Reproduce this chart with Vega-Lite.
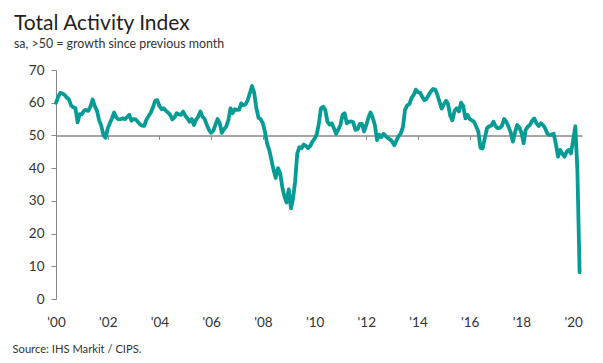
{
 "$schema": "https://vega.github.io/schema/vega-lite/v6.json",
 "width": 526, "height": 229,
 "autosize": "none",
 "padding": {"left": 56, "top": 70, "right": 21, "bottom": 64},
 "background": "white",
 "config": {"view": {"stroke": null}, "font": "Lato"},
 "title": {"text": "Total Activity Index", "subtitle": "sa, >50 = growth since previous month", "anchor": "start", "frame": "group", "dx": -42, "fontSize": 21, "fontWeight": "normal", "color": "#222", "subtitleFontSize": 12.4, "subtitleColor": "#333", "subtitlePadding": 4, "offset": 13},
 "data": {"values": [
{"d":"2000-01","v":60.0},{"d":"2000-02","v":61.8},{"d":"2000-03","v":63.0},{"d":"2000-04","v":62.8},{"d":"2000-05","v":62.4},{"d":"2000-06","v":61.6},{"d":"2000-07","v":61.0},{"d":"2000-08","v":59.2},{"d":"2000-09","v":58.6},{"d":"2000-10","v":58.3},{"d":"2000-11","v":54.0},{"d":"2000-12","v":56.5},
{"d":"2001-01","v":56.5},{"d":"2001-02","v":57.6},{"d":"2001-03","v":57.8},{"d":"2001-04","v":57.5},{"d":"2001-05","v":58.8},{"d":"2001-06","v":61.0},{"d":"2001-07","v":59.0},{"d":"2001-08","v":57.6},{"d":"2001-09","v":54.7},{"d":"2001-10","v":53.0},{"d":"2001-11","v":50.1},{"d":"2001-12","v":49.3},
{"d":"2002-01","v":52.2},{"d":"2002-02","v":53.8},{"d":"2002-03","v":55.2},{"d":"2002-04","v":57.0},{"d":"2002-05","v":55.5},{"d":"2002-06","v":54.9},{"d":"2002-07","v":55.0},{"d":"2002-08","v":55.2},{"d":"2002-09","v":55.0},{"d":"2002-10","v":55.6},{"d":"2002-11","v":56.3},{"d":"2002-12","v":54.5},
{"d":"2003-01","v":55.0},{"d":"2003-02","v":54.9},{"d":"2003-03","v":54.2},{"d":"2003-04","v":53.4},{"d":"2003-05","v":53.0},{"d":"2003-06","v":52.9},{"d":"2003-07","v":54.8},{"d":"2003-08","v":55.9},{"d":"2003-09","v":57.0},{"d":"2003-10","v":58.5},{"d":"2003-11","v":60.6},{"d":"2003-12","v":60.8},
{"d":"2004-01","v":59.0},{"d":"2004-02","v":58.0},{"d":"2004-03","v":58.3},{"d":"2004-04","v":57.6},{"d":"2004-05","v":57.0},{"d":"2004-06","v":56.3},{"d":"2004-07","v":54.9},{"d":"2004-08","v":55.5},{"d":"2004-09","v":56.8},{"d":"2004-10","v":56.4},{"d":"2004-11","v":56.3},{"d":"2004-12","v":57.3},
{"d":"2005-01","v":56.0},{"d":"2005-02","v":55.2},{"d":"2005-03","v":54.2},{"d":"2005-04","v":55.0},{"d":"2005-05","v":53.2},{"d":"2005-06","v":54.8},{"d":"2005-07","v":55.7},{"d":"2005-08","v":57.3},{"d":"2005-09","v":55.7},{"d":"2005-10","v":55.0},{"d":"2005-11","v":53.2},{"d":"2005-12","v":51.7},
{"d":"2006-01","v":50.8},{"d":"2006-02","v":51.5},{"d":"2006-03","v":53.2},{"d":"2006-04","v":55.0},{"d":"2006-05","v":53.8},{"d":"2006-06","v":50.8},{"d":"2006-07","v":51.9},{"d":"2006-08","v":52.7},{"d":"2006-09","v":54.7},{"d":"2006-10","v":58.3},{"d":"2006-11","v":56.8},{"d":"2006-12","v":58.0},
{"d":"2007-01","v":57.8},{"d":"2007-02","v":57.9},{"d":"2007-03","v":59.8},{"d":"2007-04","v":59.2},{"d":"2007-05","v":59.5},{"d":"2007-06","v":60.8},{"d":"2007-07","v":62.9},{"d":"2007-08","v":65.1},{"d":"2007-09","v":63.0},{"d":"2007-10","v":58.3},{"d":"2007-11","v":55.4},{"d":"2007-12","v":55.0},
{"d":"2008-01","v":53.7},{"d":"2008-02","v":51.0},{"d":"2008-03","v":47.5},{"d":"2008-04","v":45.5},{"d":"2008-05","v":42.5},{"d":"2008-06","v":39.4},{"d":"2008-07","v":37.0},{"d":"2008-08","v":40.0},{"d":"2008-09","v":38.5},{"d":"2008-10","v":34.3},{"d":"2008-11","v":31.3},{"d":"2008-12","v":29.5},
{"d":"2009-01","v":33.5},{"d":"2009-02","v":27.7},{"d":"2009-03","v":30.5},{"d":"2009-04","v":36.0},{"d":"2009-05","v":44.5},{"d":"2009-06","v":46.4},{"d":"2009-07","v":46.1},{"d":"2009-08","v":47.2},{"d":"2009-09","v":46.8},{"d":"2009-10","v":46.1},{"d":"2009-11","v":46.8},{"d":"2009-12","v":48.1},
{"d":"2010-01","v":49.0},{"d":"2010-02","v":50.4},{"d":"2010-03","v":53.5},{"d":"2010-04","v":58.3},{"d":"2010-05","v":58.8},{"d":"2010-06","v":57.8},{"d":"2010-07","v":54.2},{"d":"2010-08","v":53.3},{"d":"2010-09","v":53.7},{"d":"2010-10","v":52.2},{"d":"2010-11","v":50.5},{"d":"2010-12","v":51.8},
{"d":"2011-01","v":53.2},{"d":"2011-02","v":56.3},{"d":"2011-03","v":56.8},{"d":"2011-04","v":53.7},{"d":"2011-05","v":54.2},{"d":"2011-06","v":54.3},{"d":"2011-07","v":54.0},{"d":"2011-08","v":51.7},{"d":"2011-09","v":51.9},{"d":"2011-10","v":53.5},{"d":"2011-11","v":53.5},{"d":"2011-12","v":51.2},
{"d":"2012-01","v":53.2},{"d":"2012-02","v":55.5},{"d":"2012-03","v":57.0},{"d":"2012-04","v":55.4},{"d":"2012-05","v":53.2},{"d":"2012-06","v":48.6},{"d":"2012-07","v":50.2},{"d":"2012-08","v":49.5},{"d":"2012-09","v":50.5},{"d":"2012-10","v":49.8},{"d":"2012-11","v":49.2},{"d":"2012-12","v":48.8},
{"d":"2013-01","v":48.1},{"d":"2013-02","v":47.0},{"d":"2013-03","v":48.4},{"d":"2013-04","v":49.8},{"d":"2013-05","v":50.6},{"d":"2013-06","v":52.5},{"d":"2013-07","v":57.8},{"d":"2013-08","v":59.2},{"d":"2013-09","v":59.6},{"d":"2013-10","v":61.5},{"d":"2013-11","v":62.4},{"d":"2013-12","v":64.0},
{"d":"2014-01","v":63.2},{"d":"2014-02","v":63.0},{"d":"2014-03","v":61.8},{"d":"2014-04","v":60.8},{"d":"2014-05","v":61.2},{"d":"2014-06","v":62.4},{"d":"2014-07","v":63.4},{"d":"2014-08","v":64.2},{"d":"2014-09","v":64.0},{"d":"2014-10","v":62.4},{"d":"2014-11","v":60.2},{"d":"2014-12","v":58.2},
{"d":"2015-01","v":59.5},{"d":"2015-02","v":60.6},{"d":"2015-03","v":59.6},{"d":"2015-04","v":56.0},{"d":"2015-05","v":54.6},{"d":"2015-06","v":57.5},{"d":"2015-07","v":58.3},{"d":"2015-08","v":57.3},{"d":"2015-09","v":60.0},{"d":"2015-10","v":59.0},{"d":"2015-11","v":55.2},{"d":"2015-12","v":56.3},
{"d":"2016-01","v":55.0},{"d":"2016-02","v":54.6},{"d":"2016-03","v":54.2},{"d":"2016-04","v":52.7},{"d":"2016-05","v":51.2},{"d":"2016-06","v":46.2},{"d":"2016-07","v":46.0},{"d":"2016-08","v":49.2},{"d":"2016-09","v":52.2},{"d":"2016-10","v":52.8},{"d":"2016-11","v":53.0},{"d":"2016-12","v":54.2},
{"d":"2017-01","v":52.8},{"d":"2017-02","v":52.2},{"d":"2017-03","v":52.3},{"d":"2017-04","v":53.0},{"d":"2017-05","v":55.0},{"d":"2017-06","v":54.2},{"d":"2017-07","v":52.7},{"d":"2017-08","v":51.0},{"d":"2017-09","v":48.1},{"d":"2017-10","v":50.8},{"d":"2017-11","v":53.2},{"d":"2017-12","v":52.5},
{"d":"2018-01","v":50.8},{"d":"2018-02","v":47.6},{"d":"2018-03","v":51.7},{"d":"2018-04","v":52.7},{"d":"2018-05","v":53.2},{"d":"2018-06","v":54.5},{"d":"2018-07","v":55.2},{"d":"2018-08","v":53.7},{"d":"2018-09","v":52.9},{"d":"2018-10","v":53.7},{"d":"2018-11","v":53.2},{"d":"2018-12","v":52.2},
{"d":"2019-01","v":50.6},{"d":"2019-02","v":50.1},{"d":"2019-03","v":50.3},{"d":"2019-04","v":50.5},{"d":"2019-05","v":47.5},{"d":"2019-06","v":43.5},{"d":"2019-07","v":45.6},{"d":"2019-08","v":44.4},{"d":"2019-09","v":43.5},{"d":"2019-10","v":45.0},{"d":"2019-11","v":45.6},{"d":"2019-12","v":44.5},
{"d":"2020-01","v":48.6},{"d":"2020-02","v":52.8},{"d":"2020-03","v":39.3},{"d":"2020-04","v":8.2}
 ]},
 "mark": {"type": "line", "color": "#079b96", "strokeWidth": 3.8, "strokeJoin": "round", "strokeCap": "round"},
 "encoding": {
  "x": {"field": "d", "type": "temporal",
        "scale": {"type": "utc", "domain": [{"year": 2000, "month": 1, "date": 1, "utc": true}, {"year": 2020, "month": 5, "date": 5, "utc": true}]},
        "axis": {"orient": "bottom", "offset": -163.6, "grid": false, "domainColor": "#888", "domainWidth": 1.5, "tickColor": "#888", "tickSize": 4, "tickWidth": 1,
                 "tickCount": {"interval": "year", "step": 2}, "labelExpr": "\"'\" + utcFormat(datum.value, '%y')", "labelFlush": false, "labelPadding": 176,
                 "labelFontSize": 13.5, "labelColor": "#333",
                 "title": "Source: IHS Markit / CIPS.", "titleFontSize": 11.2, "titleFontWeight": "normal", "titleColor": "#333",
                 "titleX": -44, "titleY": 217, "titleAlign": "left", "titleBaseline": "alphabetic", "titleAnchor": null}},
  "y": {"field": "v", "type": "quantitative",
        "scale": {"domain": [0, 70], "nice": false},
        "axis": {"values": [0, 10, 20, 30, 40, 50, 60, 70], "grid": false, "domainColor": "#888", "tickColor": "#888", "tickSize": 5, "labelPadding": 7,
                 "labelFontSize": 13.5, "labelColor": "#333", "title": null}}
 }
}
